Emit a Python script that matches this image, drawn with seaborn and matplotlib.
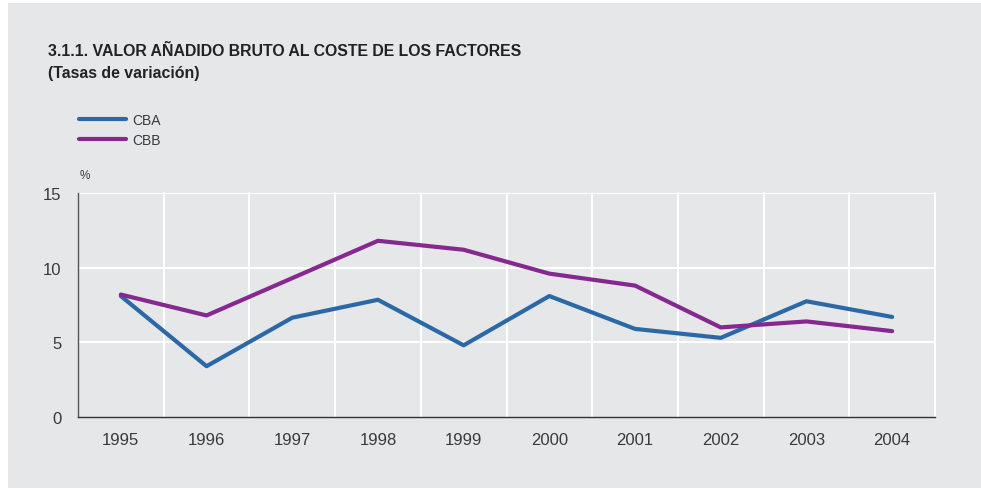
import matplotlib
matplotlib.use('Agg')
import matplotlib.pyplot as plt
import matplotlib.patches as mpatches
from matplotlib.lines import Line2D
import numpy as np
import pandas as pd
import seaborn as sns

# datos
years = ['1995', '1996', '1997', '1998', '1999', '2000', '2001', '2002', '2003', '2004']
cba = [8.1, 3.4, 6.65, 7.85, 4.8, 8.1, 5.9, 5.3, 7.75, 6.7]
cbb = [8.2, 6.8, 9.3, 11.8, 11.2, 9.6, 8.8, 6.0, 6.4, 5.75]
series_names = ['CBA', 'CBB']
colors = ['#2b69a6', '#85288f']

bg = '#e6e7e9'
txt = '#3a3a3a'

df = pd.DataFrame({'year': years, 'CBA': cba, 'CBB': cbb})
df['pos'] = np.arange(len(years))
long_df = df.melt(id_vars=['year', 'pos'], value_vars=series_names,
                  var_name='serie', value_name='valor')

sns.set_style('white')
plt.rcParams['font.family'] = ['Liberation Sans', 'DejaVu Sans']

fig = plt.figure(figsize=(9.81, 4.89), dpi=100, facecolor='white')
# panel gris de fondo
fig.patches.append(mpatches.Rectangle((8 / 981, 0), 1, 1 - 4 / 489,
                                      transform=fig.transFigure,
                                      facecolor=bg, edgecolor='none', zorder=-1))

ax = fig.add_axes([78 / 981, 1 - 418 / 489, (935 - 78) / 981, (418 - 194) / 489])
ax.set_facecolor(bg)

sns.lineplot(data=long_df, x='pos', y='valor', hue='serie',
             palette=colors, linewidth=3, ax=ax, legend=False)

ax.set_xlim(-0.5, len(years) - 0.5)
ax.set_ylim(0, 15)
ax.set_yticks([0, 5, 10, 15])
ax.set_xticks(df['pos'])
ax.set_xticklabels(years)
# lineas de rejilla verticales entre categorias (y borde derecho)
for b in np.arange(0.5, len(years), 1.0):
    ax.axvline(b, color='white', lw=1.5, zorder=0, clip_on=False)
for h in [5, 10, 15]:
    ax.axhline(h, color='white', lw=1.5, zorder=0)

ax.tick_params(axis='both', length=0, labelsize=12, colors=txt, pad=11)
ax.tick_params(axis='y', pad=12)
ax.set_xlabel('')
ax.set_ylabel('')
for s in ['top', 'right']:
    ax.spines[s].set_visible(False)
ax.spines['left'].set_color('#555555')
ax.spines['bottom'].set_color('#333333')
ax.spines['left'].set_linewidth(1)
ax.spines['bottom'].set_linewidth(1)

fig.text(48 / 981, 1 - 52 / 489, '3.1.1. VALOR AÑADIDO BRUTO AL COSTE DE LOS FACTORES',
         fontsize=11.4, fontweight='bold', color='#222222', va='center', ha='left')
fig.text(48 / 981, 1 - 74 / 489, '(Tasas de variación)',
         fontsize=11.4, fontweight='bold', color='#222222', va='center', ha='left')
fig.text(80 / 981, 1 - 176 / 489, '%', fontsize=8.5, color=txt, va='center', ha='left')

handles = [Line2D([0], [0], color=c, lw=3) for c in colors]
fig.legend(handles, series_names, loc='upper left',
           bbox_to_anchor=(66 / 981, 1 - 101 / 489), frameon=False,
           fontsize=10, handlelength=3.4, handletextpad=0.5,
           labelspacing=0.45, labelcolor=txt)

fig.savefig('out.png', dpi=100, facecolor=fig.get_facecolor())
